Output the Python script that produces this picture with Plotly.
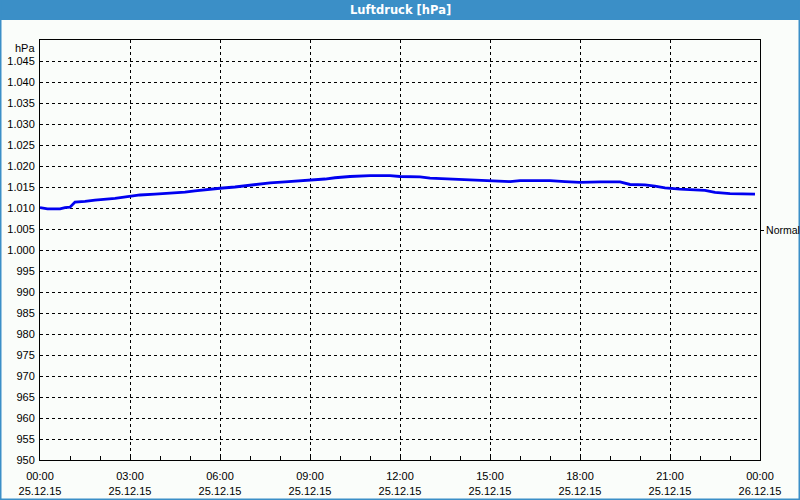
import plotly.graph_objects as go

# pressure readings on 25.12.15
times = [
    "00:00", "00:15", "00:40", "00:50", "01:00", "01:10", "01:30", "01:50",
    "02:30", "03:00", "03:20", "03:50", "04:20", "04:50", "05:10", "05:30",
    "06:00", "06:30", "06:50", "07:15", "07:40", "08:10", "08:40", "09:10",
    "09:30", "09:50", "10:20", "11:00", "11:40", "12:00", "12:40", "13:00",
    "13:40", "14:10", "15:00", "15:40", "16:00", "17:00", "17:30", "18:00",
    "18:40", "19:20", "19:40", "20:10", "20:30", "20:50", "21:20", "22:10",
    "22:30", "23:00", "23:50",
]
pressure = [
    1010.1, 1009.8, 1009.8, 1010.1, 1010.2, 1011.4, 1011.6, 1011.9,
    1012.3, 1012.8, 1013.1, 1013.3, 1013.5, 1013.8, 1014.1, 1014.4,
    1014.7, 1015.0, 1015.3, 1015.7, 1016.0, 1016.2, 1016.4, 1016.7,
    1016.9, 1017.2, 1017.5, 1017.7, 1017.7, 1017.5, 1017.4, 1017.1,
    1016.9, 1016.6, 1016.5, 1016.3, 1016.5, 1016.5, 1016.3, 1016.1,
    1016.2, 1016.2, 1015.6, 1015.5, 1015.2, 1014.8, 1014.5, 1014.2,
    1013.7, 1013.4, 1013.3,
]
normal_pressure = 1004.7

y_ticks = list(range(950, 1050, 5))
y_labels = [f"{v // 1000}.{v % 1000:03d}" if v >= 1000 else str(v) for v in y_ticks]

x_ticks = [f"2015-12-25 {h:02d}:00" for h in range(0, 24, 3)] + ["2015-12-26 00:00"]
x_labels = [f"{h:02d}:00<br>25.12.15" for h in range(0, 24, 3)] + ["00:00<br>26.12.15"]

font = dict(family="Liberation Sans, Arial, sans-serif", size=11, color="black")
bg = "#fafdfa"
bar = "#3b8fc7"
W, H = 720, 420  # plot area in px

fig = go.Figure()
fig.add_trace(
    go.Scatter(
        x=[f"2015-12-25 {t}" for t in times],
        y=pressure,
        mode="lines",
        line=dict(color="#0000f0", width=2.8),
        showlegend=False,
    )
)
# invisible trace to activate the right axis
fig.add_trace(go.Scatter(x=[x_ticks[0]], y=[normal_pressure], yaxis="y2",
                         mode="markers", marker=dict(opacity=0), showlegend=False))

grid = dict(showgrid=True, gridcolor="black", griddash="3px,3px", gridwidth=1,
            showline=True, linecolor="black", linewidth=1, mirror=True,
            zeroline=False, automargin=False)

fig.update_layout(
    width=800,
    height=500,
    margin=dict(l=40, r=40, t=40, b=40, autoexpand=False),
    paper_bgcolor=bg,
    plot_bgcolor=bg,
    font=font,
    xaxis=dict(
        type="date",
        range=["2015-12-25 00:00", "2015-12-26 00:00"],
        tickvals=x_ticks,
        ticktext=x_labels,
        ticks="inside",
        ticklen=4,
        tickcolor="black",
        ticklabelstandoff=6,
        minor=dict(dtick=3600000, ticks="inside", ticklen=4, tickcolor="black", showgrid=False),
        **grid,
    ),
    yaxis=dict(
        range=[950, 1050],
        tickvals=y_ticks,
        ticktext=y_labels,
        ticks="",
        ticklabelstandoff=2,
        **grid,
    ),
    yaxis2=dict(
        overlaying="y",
        side="right",
        range=[950, 1050],
        tickvals=[normal_pressure],
        ticktext=["Normal"],
        ticks="outside",
        ticklen=3,
        tickcolor="black",
        tickfont=dict(size=10.5),
        showgrid=False,
        zeroline=False,
        automargin=False,
        ticklabelstandoff=0,
    ),
    annotations=[
        dict(text="<b>Luftdruck [hPa]</b>", xref="paper", yref="paper",
             x=0.5, y=1 + 30 / H, xanchor="center", yanchor="middle",
             showarrow=False, font=dict(family="DejaVu Sans, sans-serif", size=11.5, color="white")),
        dict(text="hPa", xref="paper", yref="paper", x=0, y=1, xanchor="right",
             yanchor="top", xshift=-3, showarrow=False, font=font),
    ],
)

# title bar and window border
fig.add_shape(type="rect", xref="paper", yref="paper",
              x0=-40 / W, x1=760 / W, y0=1 + 20 / H, y1=1 + 40 / H,
              line=dict(width=0), fillcolor=bar, layer="below")
fig.add_shape(type="rect", xref="paper", yref="paper",
              x0=-40 / W + 0.5 / W, x1=760 / W - 0.5 / W,
              y0=-40 / H + 0.5 / H, y1=1 + 40 / H,
              line=dict(width=2, color=bar), fillcolor="rgba(0,0,0,0)", layer="below")

# drop the default page margin so the figure sits at the window corner
fig.write_html("out.html", config={"displayModeBar": False},
               post_script="document.body.style.margin='0';")
